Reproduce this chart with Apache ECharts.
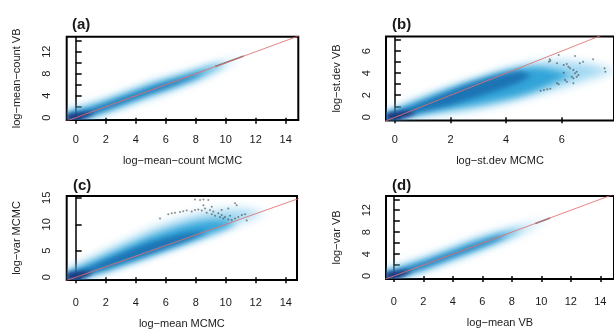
<!DOCTYPE html>
<html>
<head>
<meta charset="utf-8">
<script src="https://cdn.jsdelivr.net/npm/echarts@6/dist/echarts.min.js"></script>
<style>
  html, body { margin: 0; padding: 0; background: #fff; }
  #chart { width: 614px; height: 332px; }
</style>
</head>
<body>
<div id="chart"></div>
<script>
// identity reference line (y = x), end points
const refLine = [-1, 16];

// ticks / labels
const ticks14 = [0, 2, 4, 6, 8, 10, 12, 14];
const labels14y = [0, 4, 8, 12];
const ticksB_x = [0, 2, 4, 6];
const ticksB_y = [0, 1, 2, 3, 4, 5, 6, 7];
const labelsB_y = [0, 2, 4, 6];
const ticksC_y = [0, 5, 10, 15];

// density bands: rows of [x, low, high]
// panel (a)
const aOuter = [[-0.6,-0.5,1.6],[0,-0.5,1.8],[1,0.0,2.5],[2,0.8,3.3],[3,1.8,4.3],[4,2.8,5.3],[5,3.8,6.3],[6,4.7,7.1],[7,5.7,7.9],[8,6.7,8.7],[9,8.0,9.5],[10,9.5,10.2],[10.8,10.6,10.8]];
const aMid = [[-0.6,-0.5,0.9],[0,-0.5,1.3],[1,0.3,2.1],[2,1.2,3.0],[3,2.2,4.0],[4,3.2,5.0],[5,4.2,6.0],[6,5.1,6.8],[7,6.1,7.6],[8,7.1,8.4],[9,8.5,9.3],[9.8,9.6,9.8]];
const aCore = [[-0.6,-0.5,0.6],[0,-0.45,0.9],[1,0.5,1.6],[2,1.5,2.5],[3,2.5,3.5],[4,3.5,4.4],[5,4.5,5.4],[6,5.4,6.3],[7,6.4,7.1],[8,7.5,7.9],[8.6,8.5,8.5]];
const aDeep = [[-0.6,-0.5,0.6],[0,-0.5,0.8],[0.6,-0.1,1.0],[1.3,0.9,0.9]];
const aDark = [9.3, 11.2];

// panel (b)
const bOuter = [[-0.32,-0.3,0.5],[0,-0.3,0.8],[0.5,0.0,1.3],[1,0.15,1.8],[1.5,0.35,2.25],[2,0.45,2.7],[2.5,0.6,3.1],[3,0.8,3.5],[3.5,1.05,3.9],[4,1.35,4.3],[4.5,1.7,4.65],[5,2.0,4.95],[5.5,2.35,5.1],[6,2.7,5.1],[6.5,3.1,5.0],[7,3.5,4.8],[7.5,3.9,4.5],[7.9,4.2,4.3]];
const bMid = [[-0.32,-0.3,0.4],[0,-0.25,0.65],[0.5,0.15,1.15],[1,0.35,1.65],[1.5,0.55,2.15],[2,0.75,2.6],[2.5,0.95,3.05],[3,1.15,3.45],[3.5,1.4,3.85],[4,1.65,4.2],[4.5,1.95,4.45],[5,2.35,4.55],[5.5,2.9,4.4],[6,3.5,4.1],[6.4,3.8,3.8]];
const bCore = [[-0.32,-0.3,0.3],[0,-0.2,0.5],[0.5,0.2,0.9],[1,0.5,1.4],[1.5,0.8,1.9],[2,1.1,2.4],[2.5,1.5,2.9],[3,1.9,3.3],[3.5,2.3,3.7],[4,2.7,4.0],[4.5,3.2,4.2],[4.9,3.8,3.8]];
const bDeep = [[-0.32,-0.3,0.35],[0,-0.3,0.45],[0.4,0.0,0.6],[0.8,0.35,0.35]];
const bDotsX = [5.24,5.36,5.48,5.59,5.83,5.89,5.54,5.59,5.57,5.83,6.07,6.18,6.24,6.30,6.42,6.48,6.54,6.60,6.36,6.42,6.54,6.12,6.18,6.07,6.65,6.77,7.13,7.54,7.57,6.48,5.89,6.42];
const bDotsY = [2.41,2.47,2.53,2.59,3.08,2.99,5.04,5.13,5.25,4.89,4.74,4.83,4.58,4.44,4.28,3.98,4.13,3.83,3.68,3.53,3.68,3.38,3.23,4.04,4.89,5.04,5.25,4.44,4.13,5.55,5.64,3.08];

// panel (c)
const cOuter = [[-0.6,-0.6,1.2],[0,-0.6,2.2],[1,0.5,3.6],[2,1.2,5.0],[3,2.2,6.4],[4,3.2,7.7],[5,4.2,9.0],[6,5.2,10.1],[7,6.2,11.0],[8,7.2,11.8],[9,8.2,12.4],[10,9.3,12.8],[11,10.4,12.9],[12,11.5,12.5],[12.6,12.1,12.1]];
const cMid = [[-0.6,-0.6,0.9],[0,-0.6,1.6],[1,0.5,2.8],[2,1.2,4.0],[3,2.2,5.3],[4,3.1,6.5],[5,4.1,7.7],[6,5.1,8.7],[7,6.1,9.6],[8,7.1,10.3],[9,8.1,10.7],[10,9.2,10.8],[10.7,10.3,10.3]];
const cCore = [[-0.6,-0.6,0.7],[0,-0.4,1.1],[1,0.7,2.1],[2,1.5,3.3],[3,2.5,4.5],[4,3.4,5.6],[5,4.4,6.6],[6,5.4,7.4],[7,6.4,8.1],[8,7.5,8.6],[8.8,8.6,8.6]];
const cDeep = [[-0.6,-0.6,0.8],[0,-0.6,1.0],[0.6,-0.1,1.2],[1.2,0.9,0.9]];
const cDotsX = [7.95,8.29,8.51,8.84,10.62,10.73,6.17,6.4,6.62,6.95,7.17,7.4,7.73,7.95,8.17,8.4,8.62,8.73,8.95,9.07,9.17,9.29,9.51,9.62,9.73,9.84,9.95,10.17,10.29,10.4,10.62,10.84,11.07,11.29,11.4,5.62,8.51,9.07,9.73,10.17];
const cDotsY = [14.7,14.6,14.7,14.6,13.96,13.6,11.9,12.1,12.2,12.3,12.45,12.6,12.4,12.7,12.8,12.6,13.0,12.2,12.7,11.9,12.4,11.6,12.1,11.4,11.75,11.1,11.4,10.9,11.6,10.8,11.1,11.4,11.75,11.9,10.7,11.1,13.6,13.3,12.7,13.0];

// panel (d)
const dOuter = [[-0.55,-0.6,1.4],[0,-0.6,1.5],[1,0.1,2.4],[2,0.9,3.2],[3,1.9,4.2],[4,2.9,5.2],[5,3.9,6.2],[6,4.9,7.2],[7,6.0,8.0],[8,7.1,8.7],[9,8.4,9.3],[10,9.7,10.0],[10.6,10.5,10.5]];
const dMid = [[-0.55,-0.6,0.9],[0,-0.5,1.1],[1,0.45,1.95],[2,1.25,2.85],[3,2.25,3.85],[4,3.25,4.85],[5,4.25,5.85],[6,5.25,6.75],[7,6.35,7.55],[8,7.55,8.15],[8.8,8.6,8.6]];
const dCore = [[-0.55,-0.6,0.6],[0,-0.45,0.8],[1,0.65,1.55],[2,1.55,2.35],[3,2.55,3.35],[4,3.55,4.25],[5,4.55,5.25],[6,5.55,6.15],[7,6.55,7.05],[7.6,7.3,7.3]];
const dDeep = [[-0.55,-0.6,0.6],[0,-0.6,0.8],[0.6,-0.1,1.0],[1.3,0.9,0.9]];
const dDark = [9.6, 10.6];

const font = 'Liberation Sans, Arial, Helvetica, sans-serif';
const ink = '#1a1a1a';
const SHIFT = 3000; // draw shapes off-canvas, show only their blurred shadow

const chart = echarts.init(document.getElementById('chart'));

const layerStyle = [
  { color: 'rgba(110,195,235,0.65)', blur: 10 },
  { color: 'rgba(30,155,212,0.85)', blur: 7 },
  { color: 'rgba(20,95,165,0.7)', blur: 5 },
  { color: 'rgba(25,45,115,0.85)', blur: 4 }
];

function bandSeries(p, layers) {
  return {
    type: 'custom',
    xAxisIndex: p,
    yAxisIndex: p,
    silent: true,
    data: layers.map(() => [0, 0]),
    renderItem: function (params, api) {
      const rows = layers[params.dataIndex];
      const st = layerStyle[params.dataIndex];
      const top = rows.map(r => api.coord([r[0], r[2]]));
      const bot = rows.map(r => api.coord([r[0], r[1]])).reverse();
      const cs = params.coordSys;
      return {
        type: 'group',
        clipPath: { type: 'rect', shape: { x: cs.x, y: cs.y, width: cs.width, height: cs.height } },
        children: [{
          type: 'polygon',
          x: SHIFT,
          shape: { points: top.concat(bot) },
          style: { fill: '#000', shadowBlur: st.blur, shadowColor: st.color, shadowOffsetX: -SHIFT }
        }]
      };
    }
  };
}

function lineSeries(p, ends, color, width) {
  return {
    type: 'line',
    xAxisIndex: p,
    yAxisIndex: p,
    data: ends.map(v => [v, v]),
    symbol: 'none',
    silent: true,
    lineStyle: { color: color, width: width },
    z: 3
  };
}

function dotSeries(p, xs, ys) {
  return {
    type: 'scatter',
    xAxisIndex: p,
    yAxisIndex: p,
    data: xs.map((x, i) => [x, ys[i]]),
    symbol: 'circle',
    symbolSize: 2,
    silent: true,
    itemStyle: { color: 'rgba(50,50,50,0.7)' },
    z: 4
  };
}

function xAx(p, min, max, ticks, name, gap, margin) {
  return {
    type: 'value', gridIndex: p, min: min, max: max,
    name: name, nameLocation: 'middle', nameGap: gap,
    nameTextStyle: { fontFamily: font, fontSize: 11, color: ink },
    axisLine: { show: false },
    axisTick: { show: true, length: 6, customValues: ticks, lineStyle: { color: '#000', width: 1.5 } },
    axisLabel: { customValues: ticks, margin: margin, fontFamily: font, fontSize: 11, color: ink },
    splitLine: { show: false }
  };
}

function yAx(p, min, max, ticks, labels, name, gap) {
  return {
    type: 'value', gridIndex: p, min: min, max: max, offset: 7,
    name: name, nameLocation: 'middle', nameGap: gap,
    nameTextStyle: { fontFamily: font, fontSize: 11, color: ink },
    axisLine: { show: true, lineStyle: { color: '#000', width: 1.5 } },
    axisTick: { show: true, inside: true, length: 6, customValues: ticks, lineStyle: { color: '#000', width: 1.5 } },
    axisLabel: { customValues: labels, rotate: 90, margin: 7, fontFamily: font, fontSize: 11, color: ink },
    splitLine: { show: false }
  };
}

function panelTitle(letter, left, top) {
  return {
    text: '{p|(}{b|' + letter + '}{p|)}',
    left: left, top: top,
    textStyle: {
      rich: {
        p: { fontFamily: font, fontSize: 15, color: ink },
        b: { fontFamily: font, fontSize: 15, fontWeight: 'bold', color: ink }
      }
    }
  };
}

const option = {
  animation: false,
  backgroundColor: '#fff',
  title: [
    panelTitle('a', 67, 12),
    panelTitle('b', 387, 12),
    panelTitle('c', 68, 173),
    panelTitle('d', 387, 173)
  ],
  grid: [
    { left: 66.7, top: 36.7, width: 231.6, height: 83.3, show: true, borderColor: '#000', borderWidth: 2 },
    { left: 386, top: 36.5, width: 232, height: 84, show: true, borderColor: '#000', borderWidth: 2 },
    { left: 66.7, top: 196, width: 230.3, height: 84, show: true, borderColor: '#000', borderWidth: 2 },
    { left: 386, top: 196, width: 232, height: 83, show: true, borderColor: '#000', borderWidth: 2 }
  ],
  xAxis: [
    xAx(0, -0.6, 14.84, ticks14, 'log\u2212mean\u2212count MCMC', 35, 14),
    xAx(1, -0.32, 7.88, ticksB_x, 'log\u2212st.dev MCMC', 35, 14),
    xAx(2, -0.6, 14.75, ticks14, 'log\u2212mean MCMC', 38, 17),
    xAx(3, -0.53, 14.93, ticks14, 'log\u2212mean VB', 38, 17)
  ],
  yAxis: [
    yAx(0, -0.42, 14.73, ticks14, labels14y, 'log\u2212mean\u2212count VB', 37),
    yAx(1, -0.29, 7.32, ticksB_y, labelsB_y, 'log\u2212st.dev VB', 37),
    yAx(2, -0.51, 15.34, ticksC_y, ticksC_y, 'log\u2212var MCMC', 37),
    yAx(3, -0.55, 14.6, ticks14, labels14y, 'log\u2212var VB', 37)
  ],
  series: [
    bandSeries(0, [aOuter, aMid, aCore, aDeep]),
    lineSeries(0, aDark, 'rgba(70,70,70,0.7)', 1.6),
    lineSeries(0, refLine, 'rgba(224,110,110,0.85)', 1),
    bandSeries(1, [bOuter, bMid, bCore, bDeep]),
    lineSeries(1, refLine, 'rgba(224,110,110,0.85)', 1),
    dotSeries(1, bDotsX, bDotsY),
    bandSeries(2, [cOuter, cMid, cCore, cDeep]),
    lineSeries(2, refLine, 'rgba(224,110,110,0.85)', 1),
    dotSeries(2, cDotsX, cDotsY),
    bandSeries(3, [dOuter, dMid, dCore, dDeep]),
    lineSeries(3, dDark, 'rgba(70,70,70,0.7)', 1.6),
    lineSeries(3, refLine, 'rgba(224,110,110,0.85)', 1)
  ]
};

chart.setOption(option);
</script>
</body>
</html>
